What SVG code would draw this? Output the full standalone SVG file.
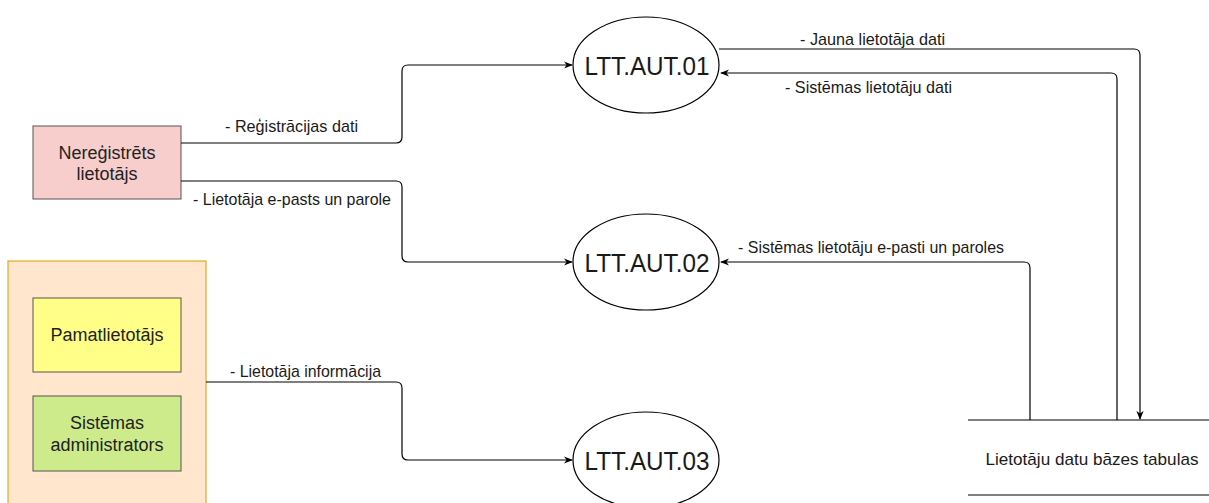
<svg xmlns="http://www.w3.org/2000/svg" width="1209" height="503" viewBox="0 0 1209 503">
  <defs>
    <marker id="arrow" viewBox="0 0 10 10" refX="9" refY="5" markerWidth="9" markerHeight="9" markerUnits="userSpaceOnUse" orient="auto">
      <path d="M0,1 L10,5 L0,9 L3,5 Z" fill="#000"/>
    </marker>
    <style>
      text { font-family: "Liberation Sans", Arial, sans-serif; fill: #1a1a1a; }
      .lbl { font-size: 17px; }
      .node { font-size: 18px; text-anchor: middle; fill: #222; }
      .proc { font-size: 26px; text-anchor: middle; }
      .edge { fill: none; stroke: #000; stroke-width: 1.2; }
      .arr { marker-end: url(#arrow); }
      .ell { fill: #fff; stroke: #000; stroke-width: 1.2; }
    </style>
  </defs>
  <rect width="1209" height="503" fill="#fff"/>

  <!-- external entity: unregistered user -->
  <g id="nereg">
    <rect x="33" y="126" width="148" height="73" fill="#f8cecc" stroke="#555" stroke-width="1"/>
    <text class="node" x="107" y="159">Nereģistrēts</text>
    <text class="node" x="107" y="180">lietotājs</text>
  </g>

  <!-- registered users container -->
  <g id="users">
    <rect x="8" y="261" width="198" height="250" fill="#ffe6cc" stroke="#d79b00" stroke-width="1"/>
  </g>
  <g id="pamat">
    <rect x="33" y="298" width="148" height="74" fill="#ffff88" stroke="#555" stroke-width="1"/>
    <text class="node" x="107" y="341">Pamatlietotājs</text>
  </g>
  <g id="admin">
    <rect x="33" y="396" width="148" height="75" fill="#cdeb8b" stroke="#555" stroke-width="1"/>
    <text class="node" x="107" y="429">Sistēmas</text>
    <text class="node" x="107" y="451">administrators</text>
  </g>

  <!-- processes -->
  <g id="aut01">
    <ellipse class="ell" cx="646" cy="65" rx="73" ry="48"/>
    <text class="proc" x="647" y="75" textLength="125" lengthAdjust="spacingAndGlyphs">LTT.AUT.01</text>
  </g>
  <g id="aut02">
    <ellipse class="ell" cx="646" cy="262" rx="73" ry="48"/>
    <text class="proc" x="647" y="272" textLength="125" lengthAdjust="spacingAndGlyphs">LTT.AUT.02</text>
  </g>
  <g id="aut03">
    <ellipse class="ell" cx="646" cy="460" rx="73" ry="48"/>
    <text class="proc" x="647" y="470" textLength="125" lengthAdjust="spacingAndGlyphs">LTT.AUT.03</text>
  </g>

  <!-- data store -->
  <g id="store">
    <line x1="968" y1="420" x2="1209" y2="420" stroke="#000" stroke-width="1.2"/>
    <line x1="968" y1="495" x2="1209" y2="495" stroke="#000" stroke-width="1.2"/>
    <text x="1092" y="465" font-size="17" text-anchor="middle" textLength="213" lengthAdjust="spacingAndGlyphs">Lietotāju datu bāzes tabulas</text>
  </g>

  <!-- data flows -->
  <g id="connectors">
    <path class="edge arr" d="M181,143 H396 Q402,143 402,137 V71 Q402,65 408,65 H572"/>
    <path class="edge arr" d="M181,181 H396 Q402,181 402,187 V256 Q402,262 408,262 H572"/>
    <path class="edge arr" d="M206,382 H396 Q402,382 402,388 V454 Q402,460 408,460 H572"/>
    <path class="edge arr" d="M719,49 H1134 Q1140,49 1140,55 V419"/>
    <path class="edge arr" d="M1117,420 V79 Q1117,73 1111,73 H721"/>
    <path class="edge arr" d="M1030,420 V268 Q1030,262 1024,262 H721"/>
  </g>

  <!-- flow labels -->
  <g id="labels">
    <text class="lbl" x="225" y="132" textLength="133" lengthAdjust="spacingAndGlyphs">- Reģistrācijas dati</text>
    <text class="lbl" x="193" y="205" textLength="198" lengthAdjust="spacingAndGlyphs">- Lietotāja e-pasts un parole</text>
    <text class="lbl" x="230" y="377" textLength="151" lengthAdjust="spacingAndGlyphs">- Lietotāja informācija</text>
    <text class="lbl" x="800" y="45" textLength="145" lengthAdjust="spacingAndGlyphs">- Jauna lietotāja dati</text>
    <text class="lbl" x="785" y="93" textLength="167" lengthAdjust="spacingAndGlyphs">- Sistēmas lietotāju dati</text>
    <text class="lbl" x="738" y="253" textLength="266" lengthAdjust="spacingAndGlyphs">- Sistēmas lietotāju e-pasti un paroles</text>
  </g>
</svg>
